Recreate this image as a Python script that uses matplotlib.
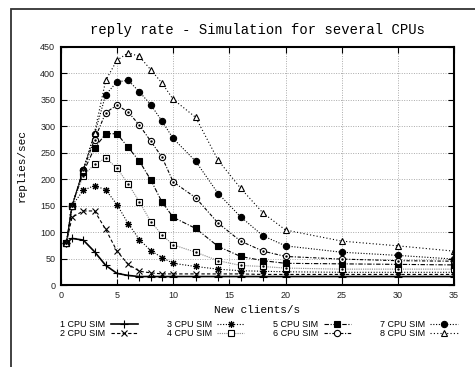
import matplotlib
matplotlib.use("Agg")
import matplotlib.pyplot as plt
from matplotlib.patches import Rectangle

# new clients per second
x = [0.5, 1, 2, 3, 4, 5, 6, 7, 8, 9, 10, 12, 14, 16, 18, 20, 25, 30, 35]

# replies/sec for each simulated CPU count
cpu1 = [80, 88, 85, 63, 37, 22, 18, 16, 16, 16, 16, 16, 16, 16, 16, 16, 16, 16, 16]
cpu2 = [80, 128, 140, 140, 105, 64, 39, 26, 23, 21, 21, 21, 21, 21, 20, 20, 20, 20, 20]
cpu3 = [80, 150, 179, 188, 180, 152, 116, 86, 65, 52, 41, 35, 30, 27, 26, 25, 24, 24, 24]
cpu4 = [80, 150, 207, 228, 240, 221, 191, 157, 120, 95, 76, 62, 46, 37, 35, 32, 30, 30, 30]
cpu5 = [80, 150, 213, 259, 286, 286, 260, 234, 199, 157, 128, 107, 73, 54, 46, 41, 40, 39, 38]
cpu6 = [80, 150, 218, 275, 326, 340, 327, 302, 272, 242, 195, 165, 117, 83, 64, 54, 49, 46, 45]
cpu7 = [80, 150, 218, 285, 360, 384, 387, 365, 341, 310, 277, 234, 173, 129, 93, 74, 62, 56, 49]
cpu8 = [80, 150, 218, 288, 387, 425, 439, 432, 407, 382, 351, 317, 236, 183, 136, 104, 83, 74, 64]

labels = ["1 CPU SIM", "2 CPU SIM", "3 CPU SIM", "4 CPU SIM",
          "5 CPU SIM", "6 CPU SIM", "7 CPU SIM", "8 CPU SIM"]

mono = "Liberation Mono"
sans = "Liberation Sans"

fig = plt.figure(figsize=(4.75, 3.67), dpi=100)
ax = fig.add_axes([0.128, 0.2234, 0.828, 0.6486])

# outer frame like the gnuplot canvas border
fig.patches.append(Rectangle((0.023, -0.1), 1.2, 1.075, transform=fig.transFigure,
                             fill=False, lw=1.3, edgecolor="#333333", clip_on=False))

styles = [
    dict(ls="-", marker="+", ms=5.5, lw=1.2, color="black"),
    dict(ls=(0, (3, 2)), marker="x", ms=4, lw=0.8, color="black"),
    dict(ls=(0, (1, 1.5)), marker=(8, 2, 0), ms=5, lw=0.8, color="black"),
    dict(ls=(0, (1, 1)), marker="s", ms=4.5, lw=0.8, color="#888888",
         mfc="white", mec="black"),
    dict(ls=(0, (4, 1.5, 1, 1.5)), marker="s", ms=4.5, lw=0.8, color="black"),
    dict(ls=(0, (3, 1.5, 1, 1.5)), marker="o", ms=4.5, lw=0.8, color="black",
         mfc="white"),
    dict(ls=(0, (1, 1.5)), marker="o", ms=4.5, lw=0.8, color="black"),
    dict(ls=(0, (1, 2)), marker="^", ms=5, lw=0.8, color="black", mfc="white"),
]
series = [cpu1, cpu2, cpu3, cpu4, cpu5, cpu6, cpu7, cpu8]

for ys, lab, st in zip(series, labels, styles):
    ax.plot(x, ys, label=lab, mew=0.8, **st)

# little centre dots inside the hollow square / circle markers
ax.plot(x, cpu4, ls="none", marker=".", ms=1.5, color="black")
ax.plot(x, cpu6, ls="none", marker=".", ms=1.5, color="black")

ax.set_xlim(0, 35)
ax.set_ylim(0, 450)
ax.set_xticks(range(0, 36, 5))
ax.set_yticks(range(0, 451, 50))
ax.grid(True, ls=(0, (1, 1.5)), color="#aaaaaa", lw=0.7)
ax.tick_params(direction="in", length=4, width=0.8, top=True, right=True,
               labelsize=6.5, pad=4, labelcolor="#222222")
for lab in ax.get_xticklabels() + ax.get_yticklabels():
    lab.set_fontfamily(sans)
for sp in ax.spines.values():
    sp.set_linewidth(1.5)

ax.set_title("reply rate - Simulation for several CPUs", fontfamily=mono,
             fontsize=10, pad=9)
ax.set_xlabel("New clients/s", fontfamily=mono, fontsize=8, labelpad=4)
ax.set_ylabel("replies/sec", fontfamily=mono, fontsize=8, labelpad=10)

fig.legend(loc="center", bbox_to_anchor=(0.545, 0.103), ncol=4, frameon=False,
           markerfirst=False, prop={"family": sans, "size": 6.5},
           handlelength=3.0, labelspacing=0.05, columnspacing=3.2,
           handletextpad=0.6)

fig.savefig("out.png", dpi=100)
